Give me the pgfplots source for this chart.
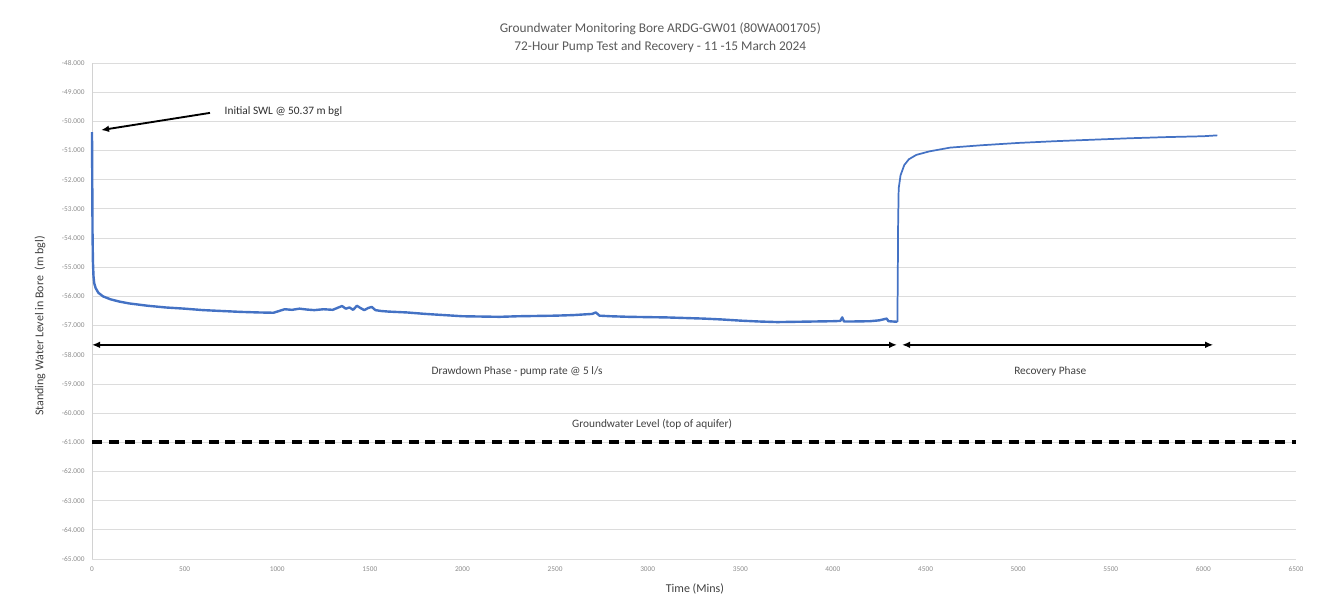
\documentclass[border=0pt]{standalone}
\usepackage{pgfplots}
\pgfplotsset{compat=1.18}
\usepackage{fontspec}
\setmainfont{Carlito}
\usetikzlibrary{arrows.meta}
\definecolor{lineblue}{HTML}{4472C4}
\definecolor{gridgrey}{HTML}{DCDCDC}
\definecolor{tickgrey}{HTML}{8C8C8C}
\definecolor{textgrey}{HTML}{404040}
\definecolor{titlegrey}{HTML}{595959}
\begin{document}
\begin{tikzpicture}
\path[use as bounding box] (0,0) rectangle (1003.5pt,460.5pt);
\begin{axis}[
  at={(69pt,41.25pt)}, anchor=south west,
  scale only axis, width=903pt, height=372pt,
  xmin=0, xmax=6500, ymin=-65, ymax=-48,
  xtick={0,500,...,6500}, ytick={-65,-64,...,-48},
  axis lines=left,
  axis line style={draw=gray!35, -},
  x axis line style={draw=none},
  major tick length=0pt,
  ymajorgrids, grid style={gridgrey, line width=0.6pt},
  /pgf/number format/assume math mode=true,
  x tick label style={/pgf/number format/1000 sep={}, font=\fontsize{5.5}{6}\selectfont, text=tickgrey, yshift=-2pt},
  y tick label style={/pgf/number format/.cd, fixed, fixed zerofill, precision=3, 1000 sep={}, /tikz/.cd, font=\fontsize{5.5}{6}\selectfont, text=tickgrey, xshift=-2pt},
  xlabel={Time (Mins)},
  ylabel={Standing Water Level in Bore \ (m bgl)},
  xlabel style={at={(axis description cs:0.5008,-0.0605)}, anchor=center, font=\fontsize{9}{10}\selectfont, text=textgrey},
  ylabel style={at={(axis description cs:-0.0432,0.47)}, anchor=center, font=\fontsize{9}{10}\selectfont, text=textgrey},
  clip=false,
]
% drawdown phase
\addplot[lineblue, line width=1.8pt, line join=round] coordinates {
(0,-50.37) (1,-51.5) (2,-52.8) (3,-53.9) (5,-54.8) (8,-55.3) (12,-55.55) (20,-55.72) (35,-55.88) (60,-56.0) (100,-56.1) (150,-56.18) (200,-56.24) (300,-56.32) (400,-56.38) (500,-56.42) (600,-56.47) (700,-56.5) (800,-56.53) (900,-56.55) (980,-56.56) (1010,-56.5) (1040,-56.44) (1080,-56.46) (1120,-56.42) (1160,-56.45) (1200,-56.47) (1250,-56.44) (1300,-56.46) (1330,-56.38) (1350,-56.33) (1370,-56.42) (1390,-56.38) (1410,-56.46) (1430,-56.32) (1450,-56.4) (1470,-56.47) (1490,-56.4) (1510,-56.36) (1530,-56.47) (1560,-56.5) (1600,-56.52) (1700,-56.55) (1800,-56.6) (1900,-56.64) (2000,-56.68) (2100,-56.69) (2200,-56.7) (2300,-56.68) (2400,-56.67) (2500,-56.66) (2600,-56.64) (2650,-56.62) (2700,-56.6) (2720,-56.55) (2740,-56.66) (2800,-56.68) (2900,-56.7) (3000,-56.71) (3100,-56.72) (3200,-56.74) (3300,-56.76) (3400,-56.79) (3500,-56.83) (3600,-56.86) (3700,-56.88) (3800,-56.87) (3900,-56.86) (4000,-56.85) (4040,-56.84) (4050,-56.72) (4060,-56.86) (4100,-56.86) (4200,-56.85) (4250,-56.82) (4290,-56.76) (4300,-56.85) (4348,-56.87)
};
% recovery phase
\addplot[lineblue, line width=1.3pt, line join=round] coordinates {
(4348,-56.87) (4350,-55.5) (4352,-53.5) (4355,-52.3) (4365,-51.85) (4385,-51.5) (4410,-51.3) (4450,-51.15) (4520,-51.03) (4633,-50.9) (4800,-50.82) (5000,-50.74) (5200,-50.68) (5400,-50.63) (5600,-50.58) (5800,-50.54) (6000,-50.51) (6075,-50.48)
};
% groundwater level (top of aquifer)
\addplot[black, line width=3pt, dash pattern=on 7.5pt off 5pt] coordinates {(0,-61) (6500,-61)};
% annotations
\draw[black, line width=1.4pt, {Latex[length=6pt,width=5pt]}-{Latex[length=6pt,width=5pt]}] (axis cs:0,-57.66) -- (axis cs:4346,-57.66);
\draw[black, line width=1.4pt, {Latex[length=6pt,width=5pt]}-{Latex[length=6pt,width=5pt]}] (axis cs:4373,-57.66) -- (axis cs:6053,-57.66);
\draw[black, line width=1.4pt, -{Latex[length=6pt,width=5pt]}] (axis cs:637,-49.71) -- (axis cs:49,-50.30);
\node[anchor=west, font=\fontsize{8.5}{10}\selectfont, text=textgrey!70!black] at (axis cs:691,-49.68) {Initial SWL @ 50.37 m bgl};
\node[font=\fontsize{8.5}{10}\selectfont, text=textgrey] at (axis cs:2295,-58.59) {Drawdown Phase - pump rate @ 5 l/s};
\node[font=\fontsize{8.5}{10}\selectfont, text=textgrey] at (axis cs:5173,-58.59) {Recovery Phase};
\node[font=\fontsize{8.5}{10}\selectfont, text=textgrey] at (axis cs:3024,-60.37) {Groundwater Level (top of aquifer)};
\node[align=center, font=\fontsize{10}{13.5}\selectfont, text=titlegrey] at (axis description cs:0.472,1.0504) {Groundwater Monitoring Bore ARDG-GW01 (80WA001705)\\72-Hour Pump Test and Recovery - 11 -15 March 2024};
\end{axis}
\end{tikzpicture}
\end{document}
